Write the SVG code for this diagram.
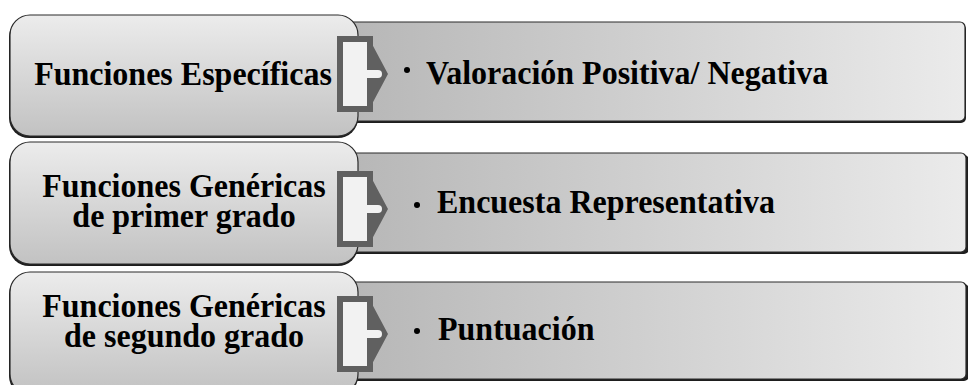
<svg xmlns="http://www.w3.org/2000/svg" width="968" height="385" viewBox="0 0 968 385">
  <defs>
    <linearGradient id="gLeft" x1="0" y1="0" x2="0" y2="1">
      <stop offset="0" stop-color="#ececec"/>
      <stop offset="1" stop-color="#c2c2c2"/>
    </linearGradient>
    <linearGradient id="gRight" x1="0" y1="0" x2="1" y2="0">
      <stop offset="0" stop-color="#b6b6b6"/>
      <stop offset="1" stop-color="#ebebeb"/>
    </linearGradient>
    <g id="bracket">
      <rect x="0" y="0" width="36" height="76" fill="#606060"/>
      <polygon points="35,8 51,38 35,68" fill="#606060"/>
      <rect x="6" y="6" width="24" height="64" fill="#f2f2f2"/>
      <rect x="29" y="34" width="12" height="8" fill="#f2f2f2"/>
      <circle cx="41" cy="38" r="4" fill="#f2f2f2"/>
    </g>
  </defs>
  <style>
    .shadow { fill: #1e1e1e; }
    .lbox { fill: url(#gLeft); stroke: #2a2a2a; stroke-width: 1.2; }
    .rbox { fill: url(#gRight); stroke: #2a2a2a; stroke-width: 1.2; }
    .t { font-family: "Liberation Serif", "Times New Roman", serif; font-weight: bold; font-size: 32px; fill: #000; }
    .c { text-anchor: middle; }
    .dot { fill: #000; }
  </style>
  <rect width="968" height="385" fill="#ffffff"/>

  <!-- right boxes -->
  <g id="item1">
    <rect class="shadow" x="339" y="24" width="627" height="99" rx="5"/>
    <rect class="rbox" x="340" y="22" width="625" height="99" rx="5"/>
    <circle class="dot" cx="407" cy="70" r="3"/>
    <text class="t" transform="translate(426,84) scale(1,1.08)">Valoración Positiva/ Negativa</text>
  </g>
  <g id="item2">
    <rect class="shadow" x="339" y="155" width="630" height="99" rx="5"/>
    <rect class="rbox" x="340" y="153" width="626" height="99" rx="5"/>
    <circle class="dot" cx="417" cy="205" r="3"/>
    <text class="t" transform="translate(437,213) scale(1,1.08)">Encuesta  Representativa</text>
  </g>
  <g id="item3">
    <rect class="shadow" x="339" y="284" width="630" height="97" rx="5"/>
    <rect class="rbox" x="340" y="282" width="626" height="97" rx="5"/>
    <circle class="dot" cx="417" cy="331" r="3"/>
    <text class="t" transform="translate(438,340) scale(1,1.08)">Puntuación</text>
  </g>

  <!-- left boxes -->
  <g id="cat1">
    <rect class="shadow" x="9" y="17" width="349" height="121" rx="20"/>
    <rect class="lbox" x="10" y="15" width="348" height="121" rx="20"/>
    <text class="t c" transform="translate(183,85) scale(1,1.08)">Funciones Específicas</text>
  </g>
  <g id="cat2">
    <rect class="shadow" x="9" y="144" width="349" height="122" rx="20"/>
    <rect class="lbox" x="10" y="142" width="348" height="122" rx="20"/>
    <text class="t c" transform="translate(184,197) scale(1,1.08)">Funciones Genéricas</text>
    <text class="t c" transform="translate(184,227) scale(1,1.08)">de primer grado</text>
  </g>
  <g id="cat3">
    <rect class="shadow" x="9" y="274" width="349" height="122" rx="20"/>
    <rect class="lbox" x="10" y="272" width="348" height="122" rx="20"/>
    <text class="t c" transform="translate(184,317) scale(1,1.08)">Funciones Genéricas</text>
    <text class="t c" transform="translate(184,347) scale(1,1.08)">de segundo grado</text>
  </g>

  <!-- connectors -->
  <g id="connectors">
    <use href="#bracket" x="337" y="36"/>
    <use href="#bracket" x="337" y="171"/>
    <use href="#bracket" x="337" y="296"/>
  </g>
</svg>
